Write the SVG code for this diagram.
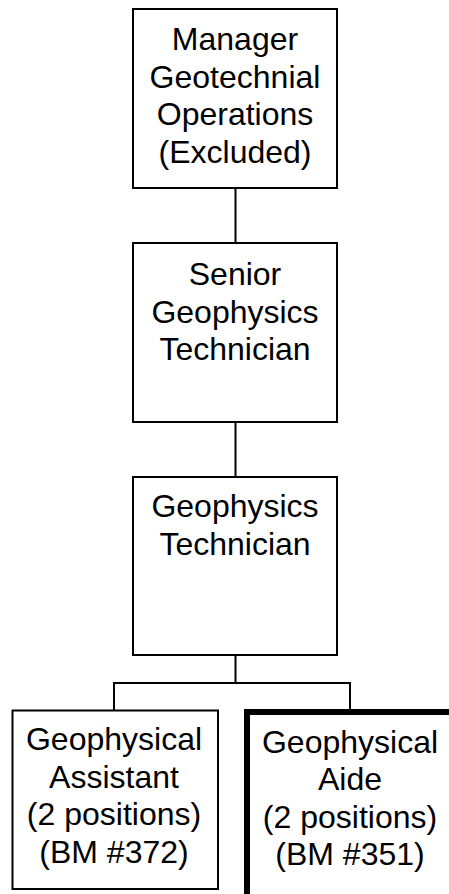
<svg xmlns="http://www.w3.org/2000/svg" width="449" height="894" viewBox="0 0 449 894">
<style>
.box{fill:#fff;stroke:#000;stroke-width:2}
.thick{fill:#fff;stroke:#000;stroke-width:6}
.t{font-family:"Liberation Sans",Arial,sans-serif;font-size:32px;fill:#000;text-anchor:middle}
.c{fill:none;stroke:#000;stroke-width:2}
</style>
<rect width="449" height="894" fill="#fff"/>
<g id="connectors">
<line class="c" x1="235.5" y1="188" x2="235.5" y2="243"/>
<line class="c" x1="235.5" y1="422" x2="235.5" y2="477"/>
<line class="c" x1="235.5" y1="655" x2="235.5" y2="683"/>
<polyline class="c" points="114,710 114,683 350,683 350,712"/>
</g>
<g id="n1">
<rect class="box" x="133" y="9" width="204" height="179"/>
<text class="t" x="235" y="50">Manager</text>
<text class="t" x="235" y="87.5">Geotechnial</text>
<text class="t" x="235" y="125">Operations</text>
<text class="t" x="235" y="162.5">(Excluded)</text>
</g>
<g id="n2">
<rect class="box" x="133" y="243" width="204" height="179"/>
<text class="t" x="235" y="285">Senior</text>
<text class="t" x="235" y="322.5">Geophysics</text>
<text class="t" x="235" y="360">Technician</text>
</g>
<g id="n3">
<rect class="box" x="133" y="477" width="204" height="178"/>
<text class="t" x="235" y="517">Geophysics</text>
<text class="t" x="235" y="554.5">Technician</text>
</g>
<g id="n4">
<rect class="box" x="12.5" y="710.5" width="205.5" height="178.5"/>
<text class="t" x="114" y="750">Geophysical</text>
<text class="t" x="114" y="787.5">Assistant</text>
<text class="t" x="114" y="825">(2 positions)</text>
<text class="t" x="114" y="862.5">(BM #372)</text>
</g>
<g id="n5">
<rect class="thick" x="247" y="712" width="220" height="200"/>
<text class="t" x="350" y="752.5">Geophysical</text>
<text class="t" x="350" y="790">Aide</text>
<text class="t" x="350" y="827.5">(2 positions)</text>
<text class="t" x="350" y="865">(BM #351)</text>
</g>
</svg>
